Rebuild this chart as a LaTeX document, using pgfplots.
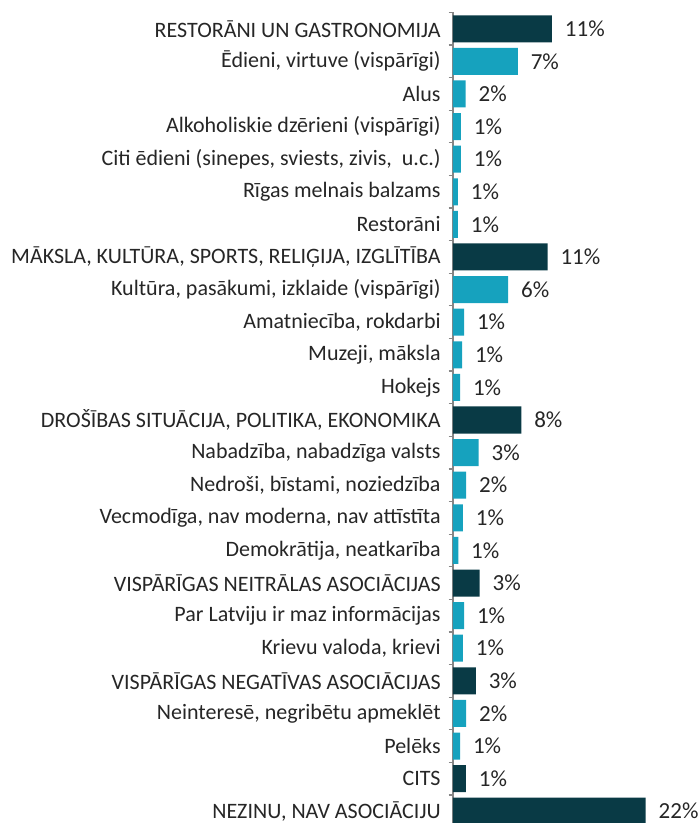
\documentclass[border=0pt]{standalone}
\usepackage{pgfplots}
\pgfplotsset{compat=1.18}
\usepackage{pgfplotstable}
\usepackage{fontspec}
\setmainfont{Carlito}

\definecolor{darkbar}{RGB}{9,58,69}
\definecolor{lightbar}{RGB}{22,162,190}
\definecolor{txt}{RGB}{38,38,38}
\definecolor{axisgray}{RGB}{134,134,134}

% row = position from top, val = bar length, lab = printed value
\pgfplotstableread{
row val lab
0 11.3 11
7 10.8 11
12 7.8 8
17 3.05 3
20 2.6 3
23 1.48 1
24 22.0 22
}\headers

\pgfplotstableread{
row val lab
1 7.4 7
2 1.45 2
3 0.91 1
4 0.91 1
5 0.57 1
6 0.57 1
8 6.3 6
9 1.26 1
10 1.03 1
11 0.8 1
13 2.93 3
14 1.5 2
15 1.14 1
16 0.6 1
18 1.26 1
19 1.14 1
21 1.5 2
22 0.8 1
}\items

\begin{document}
\begin{tikzpicture}
\begin{axis}[
    scale only axis,
    width=105.1pt, height=407.5pt,
    xmin=0, xmax=24,
    ymin=-0.5, ymax=24.5,
    y dir=reverse,
    xbar, bar width=13.5pt, bar shift=0pt,
    hide x axis,
    axis y line*=left,
    axis line style={axisgray, line width=0.6pt},
    ytick={0,...,24},
    yticklabels={
        RESTORĀNI UN GASTRONOMIJA,
        {Ēdieni, virtuve (vispārīgi)},
        Alus,
        Alkoholiskie dzērieni (vispārīgi),
        {Citi ēdieni (sinepes, sviests, zivis,\ \ u.c.)},
        Rīgas melnais balzams,
        Restorāni,
        {MĀKSLA, KULTŪRA, SPORTS, RELIĢIJA, IZGLĪTĪBA},
        {Kultūra, pasākumi, izklaide (vispārīgi)},
        {Amatniecība, rokdarbi},
        {Muzeji, māksla},
        Hokejs,
        {DROŠĪBAS SITUĀCIJA, POLITIKA, EKONOMIKA},
        {Nabadzība, nabadzīga valsts},
        {Nedroši, bīstami, noziedzība},
        {Vecmodīga, nav moderna, nav attīstīta},
        {Demokrātija, neatkarība},
        VISPĀRĪGAS NEITRĀLAS ASOCIĀCIJAS,
        Par Latviju ir maz informācijas,
        {Krievu valoda, krievi},
        VISPĀRĪGAS NEGATĪVAS ASOCIĀCIJAS,
        {Neinteresē, negribētu apmeklēt},
        Pelēks,
        CITS,
        {NEZINU, NAV ASOCIĀCIJU}
    },
    minor ytick={-0.5,0.5,...,24.5},
    major tick length=0pt,
    minor tick length=2.2pt,
    tick align=outside,
    tick style={axisgray, line width=0.6pt},
    yticklabel style={font=\fontsize{11}{13}\selectfont, text=txt, inner sep=0pt, xshift=-6pt},
    point meta=explicit symbolic,
    nodes near coords={\pgfplotspointmeta\%},
    nodes near coords style={font=\fontsize{11.5}{13}\selectfont, text=txt, anchor=west, inner sep=0pt, xshift=6.3pt},
    clip=false,
]
\addplot[fill=darkbar, draw=none] table[x=val, y=row, meta=lab] {\headers};
\addplot[fill=lightbar, draw=none] table[x=val, y=row, meta=lab] {\items};
\coordinate (tl) at (axis cs:0,-0.5);
\end{axis}
\pgfresetboundingbox
\path[use as bounding box] ([xshift=-226.5pt, yshift=6.25pt]tl) rectangle ++(348.5pt,-411.5pt);
\end{tikzpicture}
\end{document}
